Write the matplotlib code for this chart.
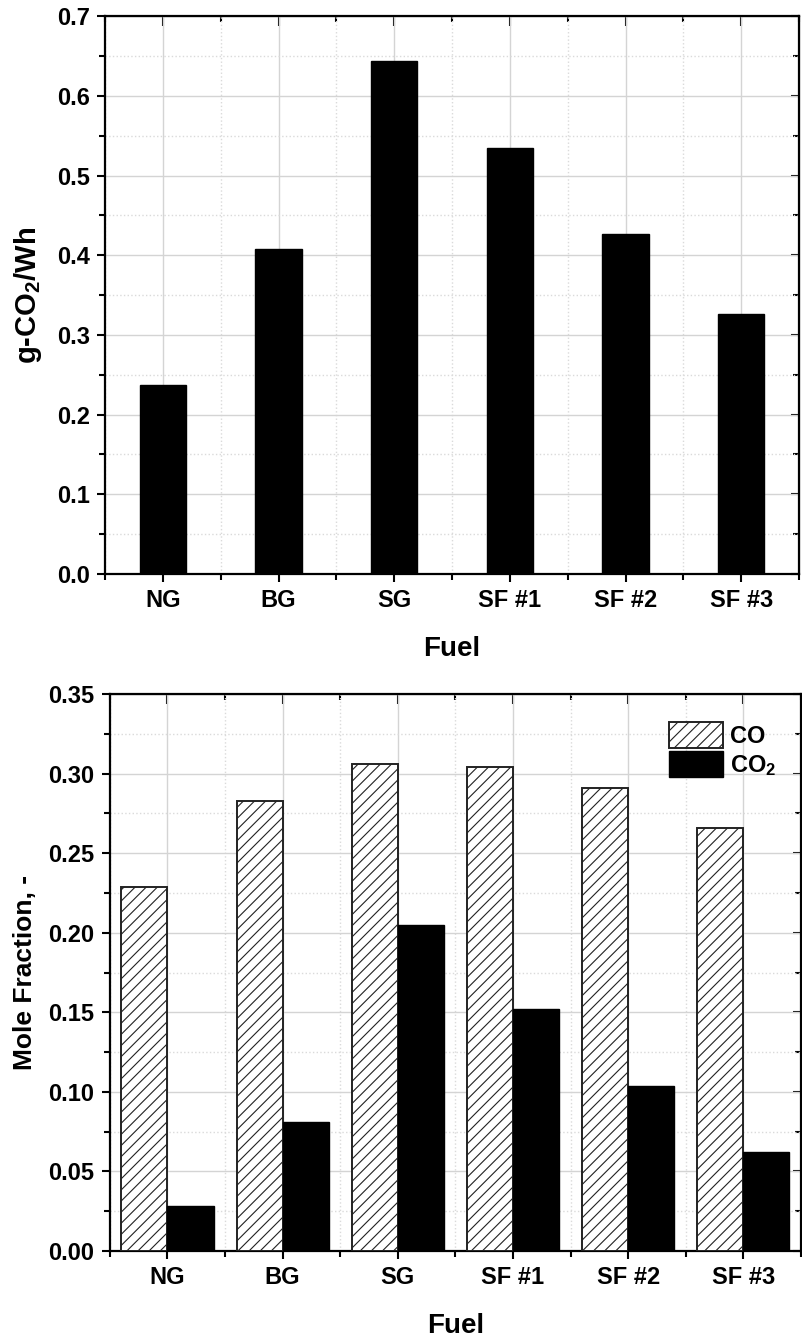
import numpy as np
import matplotlib
matplotlib.use('Agg')
import matplotlib.pyplot as plt
import matplotlib.ticker as ticker

plt.rcParams['font.family'] = ['Liberation Sans', 'DejaVu Sans']
plt.rcParams['font.weight'] = 'bold'
plt.rcParams['axes.labelweight'] = 'bold'
plt.rcParams['mathtext.fontset'] = 'custom'
plt.rcParams['mathtext.rm'] = 'Liberation Sans:bold'
plt.rcParams['mathtext.bf'] = 'Liberation Sans:bold'
plt.rcParams['mathtext.default'] = 'bf'
plt.rcParams['hatch.linewidth'] = 0.8

fuels = ['NG', 'BG', 'SG', 'SF #1', 'SF #2', 'SF #3']
co2_per_wh = [0.237, 0.408, 0.644, 0.535, 0.426, 0.326]
co_frac = [0.229, 0.283, 0.306, 0.304, 0.291, 0.266]
co2_frac = [0.028, 0.081, 0.205, 0.152, 0.104, 0.062]


def style_axes(ax, ymax, ystep, yfmt):
    n = len(fuels)
    ax.set_xlim(-0.5, n - 0.5)
    ax.set_ylim(0, ymax)
    ax.set_xticks(np.arange(n))
    ax.set_xticklabels(fuels)
    ax.xaxis.set_minor_locator(ticker.MultipleLocator(0.5))
    ax.yaxis.set_major_locator(ticker.MultipleLocator(ystep))
    ax.yaxis.set_minor_locator(ticker.MultipleLocator(ystep / 2))
    ax.yaxis.set_major_formatter(ticker.FormatStrFormatter(yfmt))
    ax.grid(which='major', color='#d4d4d4', lw=1.0, ls='-')
    ax.grid(which='minor', color='#dadada', lw=1.0, ls=':')
    ax.set_axisbelow(True)
    for s in ax.spines.values():
        s.set_linewidth(1.6)
    # origin-like ticks: out on bottom/left
    ax.tick_params(which='both', direction='out', top=False, right=False, width=1.5)
    ax.tick_params(which='major', length=6, labelsize=17, pad=5)
    ax.tick_params(which='minor', length=4)

    # ...and in on top/right
    top = ax.secondary_xaxis('top')
    top.set_xticks(np.arange(n))
    top.xaxis.set_minor_locator(ticker.MultipleLocator(0.5))
    top.tick_params(which='both', direction='in', width=1.5, labeltop=False)
    top.tick_params(which='major', length=7)
    top.tick_params(which='minor', length=4)
    right = ax.secondary_yaxis('right')
    right.yaxis.set_major_locator(ticker.MultipleLocator(ystep))
    right.yaxis.set_minor_locator(ticker.MultipleLocator(ystep / 2))
    right.tick_params(which='both', direction='in', width=1.5, labelright=False)
    right.tick_params(which='major', length=6)
    right.tick_params(which='minor', length=4)
    ax.set_xlabel('Fuel', fontsize=20, labelpad=17)


fig = plt.figure(figsize=(8.02, 13.40), dpi=100)
x = np.arange(len(fuels))

# top chart: specific CO2
ax1 = fig.add_axes([0.131, 0.5716, 0.8653, 0.4164])
ax1.bar(x, co2_per_wh, width=0.4, color='black', edgecolor='black', zorder=3)
style_axes(ax1, 0.7, 0.1, '%.1f')
ax1.set_ylabel('g-CO$_2$/Wh', fontsize=21, labelpad=9)

# bottom chart: mole fractions
ax2 = fig.add_axes([0.137, 0.0664, 0.8616, 0.4157])
ax2.bar(x - 0.2, co_frac, width=0.4, color='white', edgecolor='#222222',
        hatch='///', lw=1.4, zorder=3, label='CO')
ax2.bar(x + 0.2, co2_frac, width=0.4, color='black', edgecolor='black',
        zorder=3, label='CO$_2$')
style_axes(ax2, 0.35, 0.05, '%.2f')
ax2.set_ylabel('Mole Fraction, -', fontsize=19, labelpad=8)
ax2.legend(loc='upper right', bbox_to_anchor=(0.985, 0.975), frameon=False,
           fontsize=17, handlelength=2.3, handleheight=1.3, handletextpad=0.3,
           labelspacing=0.15, borderaxespad=0.2)

fig.savefig('out.png', dpi=100)
